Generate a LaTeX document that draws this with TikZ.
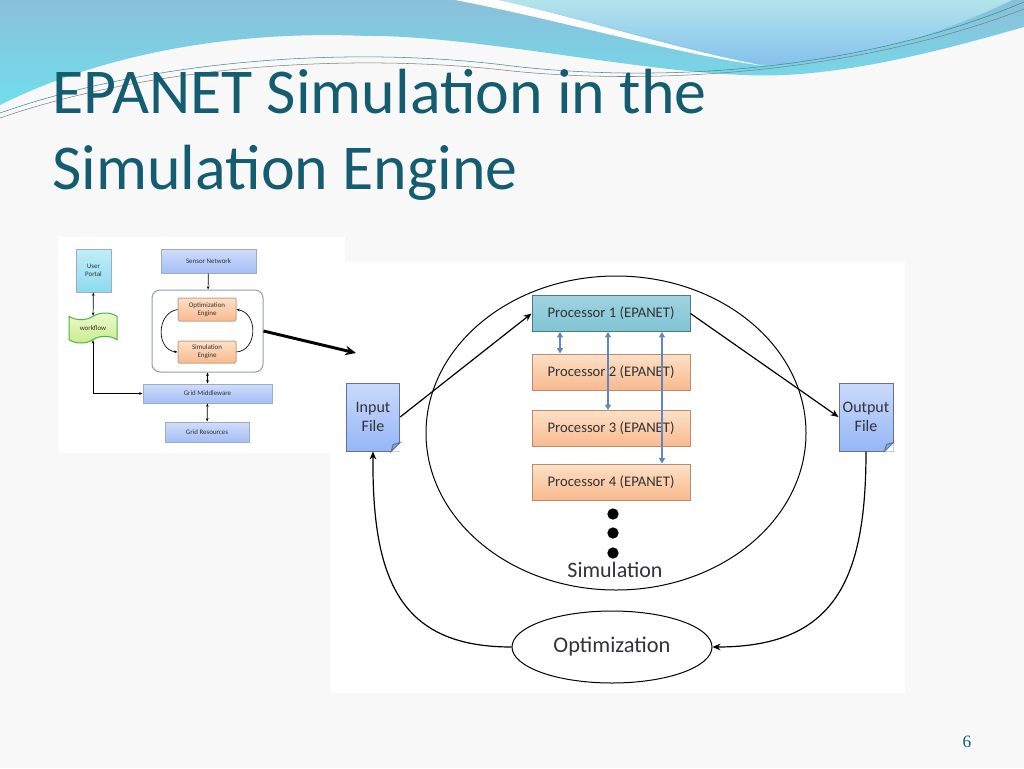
\documentclass[tikz,border=0pt]{standalone}
\usepackage{fontspec}
\setmainfont{Carlito}
\newfontfamily\numfont{Liberation Serif}
\usetikzlibrary{arrows.meta,shapes.geometric,shapes.symbols,positioning}

\definecolor{titleteal}{RGB}{20,92,112}
\definecolor{waveblue}{RGB}{138,192,218}
\definecolor{wavecyan}{RGB}{112,222,236}
\definecolor{wavepale}{RGB}{178,228,236}
\definecolor{wavelav}{RGB}{132,192,236}
\definecolor{waveline}{RGB}{60,140,150}
\definecolor{slidebg}{RGB}{248,248,248}
\definecolor{procteal}{RGB}{128,196,212}
\definecolor{procedge}{RGB}{80,118,135}
\definecolor{orangetop}{RGB}{252,224,198}
\definecolor{orangebot}{RGB}{249,186,142}
\definecolor{orangeedge}{RGB}{185,140,110}
\definecolor{filetop}{RGB}{202,218,252}
\definecolor{filebot}{RGB}{150,182,246}
\definecolor{fileedge}{RGB}{95,115,150}
\definecolor{linkblue}{RGB}{95,135,195}
\definecolor{textgray}{RGB}{50,50,55}
\definecolor{greentop}{RGB}{238,250,205}
\definecolor{greenbot}{RGB}{200,236,140}
\definecolor{cyantop}{RGB}{192,238,248}
\definecolor{cyanbot}{RGB}{140,218,240}
\definecolor{bluetop}{RGB}{208,220,252}
\definecolor{bluebot}{RGB}{165,190,246}

\tikzset{every picture/.style={line width=0.75pt}}
\tikzset{
  titletext/.style={anchor=base west, inner sep=0pt, text=titleteal, font=\fontsize{47.9}{52}\selectfont},
  proc/.style={draw=orangeedge, top color=orangetop, bottom color=orangebot, minimum width=118.5pt, minimum height=27pt, inner sep=0pt, font=\fontsize{11}{13}\selectfont, text=textgray},
  procone/.style={proc, draw=procedge, top color=procteal!75, bottom color=procteal},
  filebox/.style={draw=fileedge, top color=filetop, bottom color=filebot, minimum width=40pt, minimum height=51pt, inner sep=0pt, align=center, font=\fontsize{12}{14}\selectfont, text=textgray},
  flow/.style={-{Stealth[length=6pt,width=5pt]}, line width=0.9pt},
  link/.style={{Triangle[length=4pt,width=4.5pt]}-{Triangle[length=4pt,width=4.5pt]}, draw=linkblue, line width=1.4pt},
  dot/.style={circle, fill=black, inner sep=0pt, minimum size=8.5pt},
  tiny/.style={font=\fontsize{5.2}{5.8}\selectfont, text=textgray, align=center, inner sep=0pt},
  insetbox/.style={tiny, draw=fileedge!60, top color=bluetop, bottom color=bluebot},
  enginebox/.style={tiny, draw=orangeedge!80, top color=orangetop, bottom color=orangebot, rounded corners=1pt, minimum width=43.5pt},
  tinyarrow/.style={-{Stealth[length=2.5pt,width=2pt]}, line width=0.5pt},
  tinyboth/.style={{Stealth[length=2.5pt,width=2pt]}-{Stealth[length=2.5pt,width=2pt]}, line width=0.5pt}
}

\begin{document}
\begin{tikzpicture}[x=0.75pt,y=0.75pt,yscale=-1,xscale=1]
\useasboundingbox (0,0) rectangle (1024,768);
\fill[slidebg] (0,0) rectangle (1024,768);

% Wave
\shade[top color=waveblue, bottom color=wavecyan] (0,0) -- (1024,0) -- (1024,27) .. controls (960,45) and (840,80) .. (745,75) .. controls (640,72) and (470,35) .. (367,36) .. controls (230,30) and (100,55) .. (0,105) -- cycle ;
\shade[top color=wavepale, bottom color=wavelav] (498,0) .. controls (580,18) and (680,48) .. (760,64) .. controls (850,66) and (950,30) .. (1012,0) -- cycle ;
\fill[white] (455,0) .. controls (560,20) and (680,55) .. (765,66) .. controls (680,50) and (580,18) .. (498,0) -- cycle ;
\draw[waveline, line width=0.4pt] (0,113) .. controls (150,60) and (350,45) .. (512,66) .. controls (650,82) and (850,75) .. (1024,2) ;
\draw[gray, line width=0.4pt] (0,118) .. controls (150,66) and (350,52) .. (512,71) .. controls (660,86) and (860,72) .. (1024,9) ;

% Title
\node[titletext] (title1) at (52,113) {EPANET Simulation in the};
\node[titletext] (title2) at (52,189) {Simulation Engine};

% Picture frames
\fill[white] (58,237) rectangle (345,453) ;
\fill[white] (330,262) rectangle (905,693) ;

% Text Node
\node[insetbox, top color=cyantop, bottom color=cyanbot, minimum width=26.25pt, minimum height=32.25pt, text depth=0pt] (portal) at (93.5,270.5) {User\\Portal};
\node[insetbox, minimum width=71.25pt, minimum height=18pt] (sensor) at (208.5,261) {Sensor Network};
\node[draw=fileedge!70, rounded corners=6pt, fill=white, minimum width=83.25pt, minimum height=61.5pt] (engines) at (207.5,331) {};
\node[enginebox, minimum height=17.25pt] (opteng) at (207,309.5) {Optimization\\Engine};
\node[enginebox, minimum height=16.5pt] (simeng) at (207,352) {Simulation\\Engine};
\node[tiny, tape, draw=green!40!gray, top color=greentop, bottom color=greenbot, minimum width=36pt, minimum height=22.5pt] (workflow) at (93,328) {workflow};
\node[insetbox, minimum width=96.75pt, minimum height=14.25pt] (gridmw) at (207.5,393.5) {Grid Middleware};
\node[insetbox, minimum width=63pt, minimum height=15pt] (gridres) at (207,432) {Grid Resources};
\coordinate (zoomtip) at (356,353);

% Connection
\draw[tinyarrow] (sensor) -- (engines) ;
\draw[tinyboth] (portal) -- (workflow) ;
\draw[tinyboth] (workflow.south) |- (gridmw.west) ;
\draw[tinyboth] (engines) -- (gridmw) ;
\draw[tinyboth] (gridmw) -- (gridres) ;
\draw[tinyarrow] (opteng.west) .. controls (156,313) and (156,350) .. (simeng.west) ;
\draw[tinyarrow] (simeng.east) .. controls (258,350) and (258,313) .. (opteng.east) ;
\draw[-{Stealth[length=8pt,width=7pt]}, line width=2.2pt] (engines.east) -- (zoomtip) ;

% Text Node
\node[ellipse, draw, minimum width=285pt, minimum height=235.5pt] (simring) at (616,433) {};
\node[procone] (p1) at (611,313.5) {Processor 1 (EPANET)};
\node[proc] (p2) at (611,372) {Processor 2 (EPANET)};
\node[proc] (p3) at (611,428.5) {Processor 3 (EPANET)};
\node[proc] (p4) at (611,482) {Processor 4 (EPANET)};
\node[dot] (dot1) at (613,514) {};
\node[dot] (dot2) at (613,533) {};
\node[dot] (dot3) at (613,553) {};
\node[text=textgray, font=\fontsize{16.5}{18}\selectfont] (simlabel) at (615,570) {Simulation};
\node[filebox] (inp) at (373,417) {Input\\File};
\node[filebox, minimum width=40.5pt] (out) at (866,417) {Output\\File};
\node[ellipse, draw, fill=white, minimum width=150pt, minimum height=54pt, text=textgray, font=\fontsize{16.8}{18}\selectfont] (opt) at (612,647) {Optimization};

% Folded corners
\foreach \f in {inp,out} {
  \fill[white] (\f.south east) ++(-9,0) -- ++(9,-9) -- (\f.south east) -- cycle ;
  \filldraw[fill=filebot!80!fileedge, draw=fileedge] (\f.south east) ++(-9,0) -- ++(9,-9) -- ++(-7,2) -- cycle ;
}

% Connection
\draw[flow] (inp.east) -- (p1.west) ;
\draw[flow] (p1.east) -- (out.west) ;
\draw[link] (p1.south -| 560,0) -- (p2.north -| 560,0) ;
\draw[link] (p1.south -| 608,0) -- (p3.north -| 608,0) ;
\draw[link] (p1.south -| 662,0) -- (p4.north -| 662,0) ;
\draw[flow] (opt.west) .. controls (400,647) and (372,580) .. (inp.south) ;
\draw[flow] (out.south) .. controls (866,580) and (835,647) .. (opt.east) ;

% Page number
\node[text=titleteal, font=\numfont\fontsize{13}{13}\selectfont] (pagenum) at (967,742) {6};

\end{tikzpicture}
\end{document}
